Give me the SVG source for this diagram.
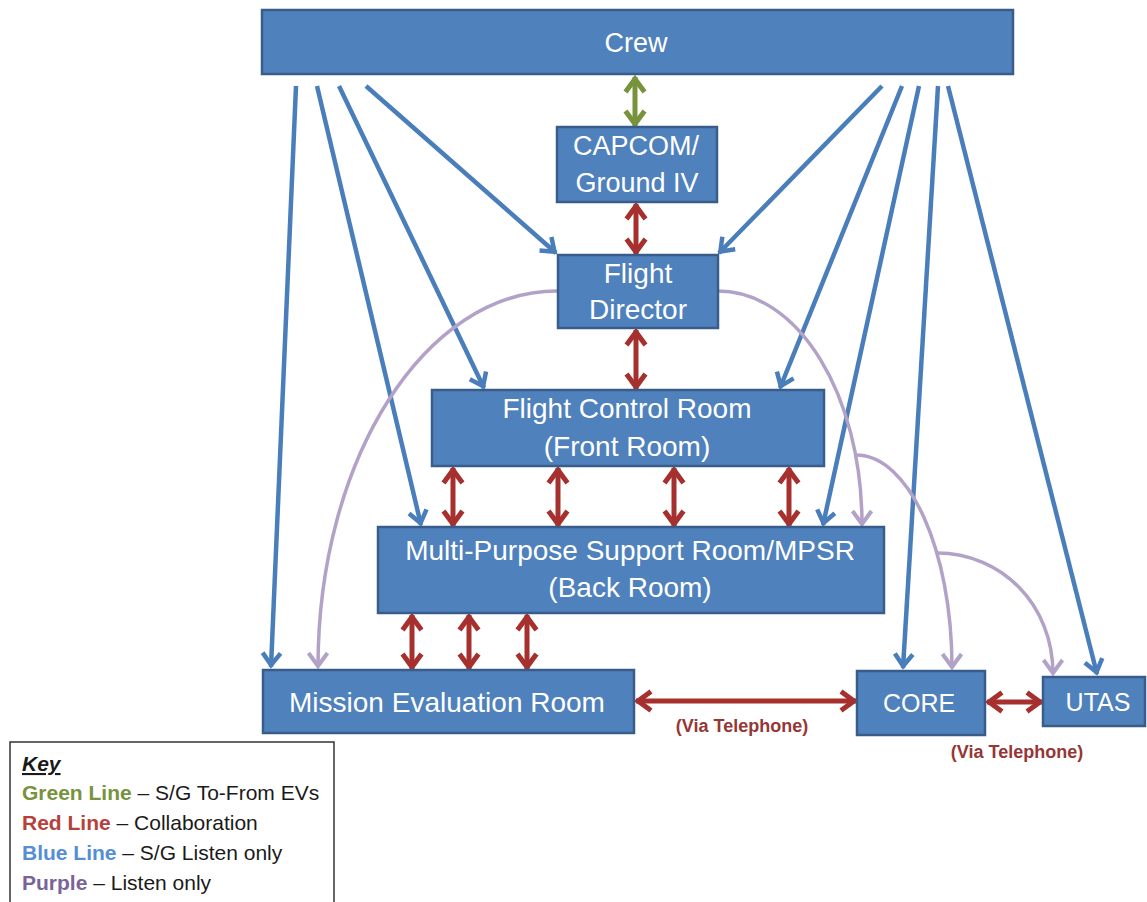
<svg xmlns="http://www.w3.org/2000/svg" width="1147" height="902" viewBox="0 0 1147 902">
<style>
.box{fill:#4F81BD;stroke:#385D8A;stroke-width:2.5}
.lbl{font-family:"Liberation Sans",Arial,sans-serif;fill:#FFFFFF;text-anchor:middle;font-size:28px}
.blue{stroke:#4A7EBB;stroke-width:4.5;fill:none;marker-end:url(#hb)}
.purple{stroke:#B3A2C7;stroke-width:3.5;fill:none}
.purpleA{marker-end:url(#hp)}
.red{stroke:#A5302D;stroke-width:5;fill:none;marker-start:url(#hr);marker-end:url(#hr)}
.green{stroke:#77933C;stroke-width:5;fill:none;marker-start:url(#hg);marker-end:url(#hg)}
.tel{font-family:"Liberation Sans",Arial,sans-serif;font-weight:bold;font-size:18px;fill:#953735;text-anchor:middle}
.key{font-family:"Liberation Sans",Arial,sans-serif;font-size:21px;fill:#1a1a1a}
</style>
<defs>
<marker id="hb" markerUnits="userSpaceOnUse" viewBox="0 0 24 24" markerWidth="24" markerHeight="24" refX="21" refY="12" orient="auto-start-reverse">
<path d="M7,3 L19,12 L7,21" fill="none" stroke="#4A7EBB" stroke-width="4.5"/>
</marker>
<marker id="hp" markerUnits="userSpaceOnUse" viewBox="0 0 24 24" markerWidth="24" markerHeight="24" refX="20" refY="12" orient="auto-start-reverse">
<path d="M6,2.5 L19,12 L6,21.5" fill="none" stroke="#B3A2C7" stroke-width="4"/>
</marker>
<marker id="hr" markerUnits="userSpaceOnUse" viewBox="0 0 26 26" markerWidth="26" markerHeight="26" refX="21" refY="13" orient="auto-start-reverse">
<path d="M6,3.5 L19,13 L6,22.5" fill="none" stroke="#A5302D" stroke-width="5"/>
</marker>
<marker id="hg" markerUnits="userSpaceOnUse" viewBox="0 0 26 26" markerWidth="26" markerHeight="26" refX="21" refY="13" orient="auto-start-reverse">
<path d="M6,3.5 L19,13 L6,22.5" fill="none" stroke="#77933C" stroke-width="5"/>
</marker>
</defs>
<rect width="1147" height="902" fill="#FFFFFF"/>
<g id="connectors">
<line class="blue" x1="296" y1="86" x2="271" y2="667"/>
<line class="blue" x1="317" y1="86" x2="421" y2="525"/>
<line class="blue" x1="339" y1="86" x2="484" y2="388"/>
<line class="blue" x1="366" y1="86" x2="556" y2="253"/>
<line class="blue" x1="882" y1="86" x2="719" y2="253"/>
<line class="blue" x1="902" y1="86" x2="780" y2="388"/>
<line class="blue" x1="919" y1="86" x2="823" y2="525"/>
<line class="blue" x1="938" y1="86" x2="903" y2="668"/>
<line class="blue" x1="948" y1="86" x2="1097" y2="674"/>
<path class="purple purpleA" d="M557,291 C425,291 318,459 318,667"/>
<path class="purple purpleA" d="M718,291 C798,291 862,394 862,525"/>
<path class="purple purpleA" d="M856,455 C909,455 952,550 952,668"/>
<path class="purple purpleA" d="M937,553 C1001,553 1053,604 1053,674"/>
<line class="green" x1="635" y1="77" x2="635" y2="126"/>
<line class="red" x1="636" y1="204" x2="636" y2="254"/>
<line class="red" x1="636" y1="330" x2="636" y2="389"/>
<line class="red" x1="453" y1="468" x2="453" y2="526"/>
<line class="red" x1="558" y1="468" x2="558" y2="526"/>
<line class="red" x1="674" y1="468" x2="674" y2="526"/>
<line class="red" x1="789" y1="468" x2="789" y2="526"/>
<line class="red" x1="412" y1="615" x2="412" y2="669"/>
<line class="red" x1="469" y1="615" x2="469" y2="669"/>
<line class="red" x1="527" y1="615" x2="527" y2="669"/>
<line class="red" x1="636" y1="701" x2="856" y2="701"/>
<line class="red" x1="987" y1="702" x2="1042" y2="702"/>
<text class="tel" x="742" y="732">(Via Telephone)</text>
<text class="tel" x="1017" y="758">(Via Telephone)</text>
</g>
<g id="crew">
<rect class="box" x="262" y="10" width="751" height="64"/>
<text class="lbl" x="636" y="52" style="font-size:27px">Crew</text>
</g>
<g id="capcom">
<rect class="box" x="557" y="127" width="160" height="75"/>
<text class="lbl" x="636" y="155" style="font-size:27px">CAPCOM/</text>
<text class="lbl" x="637" y="192" style="font-size:27px">Ground IV</text>
</g>
<g id="flight-director">
<rect class="box" x="558" y="255" width="160" height="73"/>
<text class="lbl" x="638" y="283">Flight</text>
<text class="lbl" x="638" y="319">Director</text>
</g>
<g id="fcr">
<rect class="box" x="432" y="390" width="392" height="76"/>
<text class="lbl" x="627" y="418">Flight Control Room</text>
<text class="lbl" x="627" y="456">(Front Room)</text>
</g>
<g id="mpsr">
<rect class="box" x="378" y="527" width="506" height="86"/>
<text class="lbl" x="630" y="560">Multi-Purpose Support Room/MPSR</text>
<text class="lbl" x="630" y="597">(Back Room)</text>
</g>
<g id="mer">
<rect class="box" x="263" y="670" width="371" height="63"/>
<text class="lbl" x="447" y="712">Mission Evaluation Room</text>
</g>
<g id="core">
<rect class="box" x="857" y="671" width="128" height="64"/>
<text class="lbl" x="919" y="712" style="font-size:25px">CORE</text>
</g>
<g id="utas">
<rect class="box" x="1043" y="677" width="102" height="49"/>
<text class="lbl" x="1098" y="711" style="font-size:25px">UTAS</text>
</g>
<g id="key">
<rect x="10" y="742" width="324" height="175" fill="#FFFFFF" stroke="#333333" stroke-width="1.5"/>
<text class="key" x="22" y="771" font-weight="bold" font-style="italic" text-decoration="underline">Key</text>
<text class="key" x="22" y="800"><tspan fill="#77933C" font-weight="bold">Green Line</tspan> – S/G To-From EVs</text>
<text class="key" x="22" y="830"><tspan fill="#B8403C" font-weight="bold">Red Line</tspan> – Collaboration</text>
<text class="key" x="22" y="860"><tspan fill="#558ED5" font-weight="bold">Blue Line</tspan> – S/G Listen only</text>
<text class="key" x="22" y="890"><tspan fill="#7A6399" font-weight="bold">Purple</tspan> – Listen only</text>
</g>
</svg>
